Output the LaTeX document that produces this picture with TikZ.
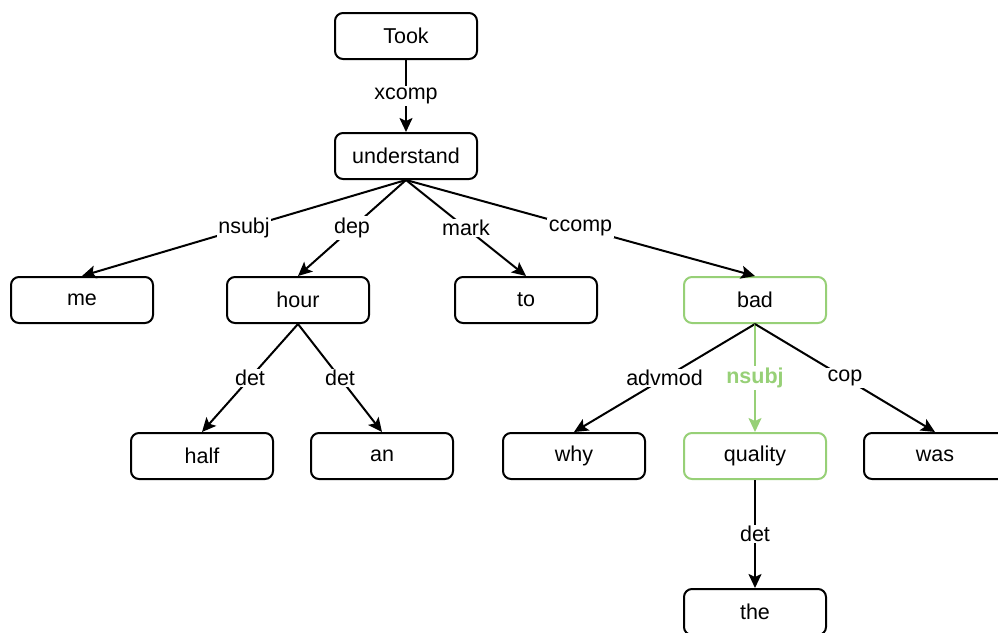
\documentclass[tikz,border=0pt]{standalone}
\usepackage{fontspec}
\setmainfont{Liberation Sans}
\usetikzlibrary{arrows.meta}
\definecolor{hlgreen}{HTML}{97D077}
\begin{document}
\begin{tikzpicture}[x=1pt,y=-1pt,
  word/.style={draw=black,line width=2pt,rounded corners=8pt,minimum width=142pt,minimum height=46pt,inner sep=0pt,font=\fontsize{21.5}{25}\selectfont,fill=white},
  hl/.style={draw=hlgreen},
  dep/.style={line width=2pt,-{Stealth[length=14pt,width=13pt,inset=3pt]}},
  lab/.style={fill=white,inner sep=1.5pt,font=\fontsize{21.5}{25}\selectfont,text=black}
]
\useasboundingbox (0,0) rectangle (998,632);
\node[word] (took) at (406,36) {Took};
\node[word] (understand) at (406,156) {understand};
\node[word] (me) at (82,300) {me};
\node[word] (hour) at (298,300) {hour};
\node[word] (to) at (526,300) {to};
\node[word,hl] (bad) at (755,300) {bad};
\node[word] (half) at (202,456) {half};
\node[word] (an) at (382,456) {an};
\node[word] (why) at (574,456) {why};
\node[word,hl] (quality) at (755,456) {quality};
\node[word] (was) at (935,456) {was};
\node[word] (the) at (755,612) {the};

\draw[dep] (took.south) -- node[lab]{xcomp} (understand.north);
\draw[dep] (understand.south) -- node[lab]{nsubj} (me.north);
\draw[dep] (understand.south) -- node[lab]{dep} (hour.north);
\draw[dep] (understand.south) -- node[lab]{mark} (to.north);
\draw[dep] (understand.south) -- node[lab]{ccomp} (bad.north);
\draw[dep] (hour.south) -- node[lab]{det} (half.north);
\draw[dep] (hour.south) -- node[lab]{det} (an.north);
\draw[dep] (bad.south) -- node[lab]{advmod} (why.north);
\draw[dep,draw=hlgreen,-{Stealth[length=14pt,width=13pt,inset=3pt,fill=hlgreen]}] (bad.south) -- node[lab,text=hlgreen,font=\fontsize{21.5}{25}\selectfont\bfseries]{nsubj} (quality.north);
\draw[dep] (bad.south) -- node[lab]{cop} (was.north);
\draw[dep] (quality.south) -- node[lab]{det} (the.north);
\end{tikzpicture}
\end{document}
